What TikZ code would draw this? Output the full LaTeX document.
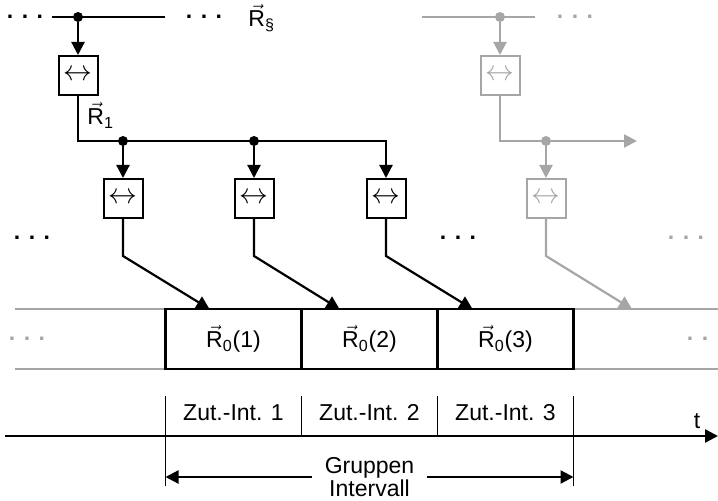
\documentclass[tikz,border=0pt]{standalone}
\usepackage{amsmath}
\usepackage{fontspec}
\setmainfont{Liberation Sans}
\usetikzlibrary{arrows.meta, positioning, calc}

\newcommand{\vecR}[1]{$\vec{\text{R}}_{\text{#1}}$}

\begin{document}
\begin{tikzpicture}[
        x=0.5pt, y=-0.5pt,
        font=\fontsize{11.5}{11.5}\selectfont,
        node distance=0pt,
        swapbox/.style={rectangle, draw, line width=1pt, minimum size=19.5pt, inner sep=0pt, font=\fontsize{14}{14}\selectfont},
        slot/.style={rectangle, draw, line width=1.2pt, minimum width=68pt, minimum height=30pt, inner sep=0pt, outer sep=0pt},
        arrow/.style={-{Triangle[length=6.5pt, width=6.5pt]}, line width=1.1pt},
        wire/.style={line width=1.1pt},
        junc/.style={circle, fill, inner sep=0pt, minimum size=5pt},
        faded/.style={black!35},
        guide/.style={black!35, line width=0.7pt},
        dotrow/.style={inner sep=0pt, font=\fontsize{11.5}{11.5}\selectfont\bfseries},
        tick/.style={line width=0.6pt}
    ]
        \useasboundingbox (0,0) rectangle (718,501);

        % top bus
        \coordinate (busw) at (52,17);
        \coordinate (buse) at (165,17);
        \draw[wire] (busw) -- (buse);
        \node[dotrow] (dots0) at (25,17) {. . .};
        \node[dotrow] (dots1) at (204,17) {. . .};
        \node[junc] (j0) at (78,17) {};
        \node[anchor=base west, inner sep=0pt] (rs) at (248,27) {\vecR{\S}};
        \node[swapbox] (sw0) at (78,75.5) {$\leftrightarrow$};
        \draw[arrow] (j0) -- (sw0);

        % second level
        \node[anchor=base west, inner sep=0pt] (r1) at (87,125) {\vecR{1}};
        \foreach \i/\x in {1/123, 2/254, 3/386}
            \node[swapbox] (sw\i) at (\x,198.5) {$\leftrightarrow$};
        \coordinate (bus) at (386,141);
        \draw[arrow] (sw0) |- (bus) -- (sw3);
        \node[junc] (j1) at (123,141) {};
        \node[junc] (j2) at (254,141) {};
        \draw[arrow] (j1) -- (sw1);
        \draw[arrow] (j2) -- (sw2);

        \node[dotrow] (dots2) at (32,238) {. . .};
        \node[dotrow] (dots3) at (458,238) {. . .};

        % grey continuation
        \coordinate (gbusw) at (422,17);
        \coordinate (gbuse) at (535,17);
        \draw[wire, faded] (gbusw) -- (gbuse);
        \node[junc, faded] (gj0) at (500,17) {};
        \node[dotrow, faded] (gdots0) at (575,17) {. . .};
        \node[swapbox, faded] (gsw0) at (500,75.5) {$\leftrightarrow$};
        \draw[arrow, faded] (gj0) -- (gsw0);
        \coordinate (gbus) at (637,141);
        \draw[arrow, faded] (gsw0) |- (gbus);
        \node[junc, faded] (gj1) at (546,141) {};
        \node[swapbox, faded] (gsw1) at (546,198.5) {$\leftrightarrow$};
        \draw[arrow, faded] (gj1) -- (gsw1);
        \node[dotrow, faded] (gdots1) at (686,238) {. . .};

        % slots
        \coordinate (gtw) at (15,309);
        \coordinate (gte) at (718,309);
        \coordinate (gbw) at (15,369);
        \coordinate (gbe) at (718,369);
        \draw[guide] (gtw) -- (gte);
        \draw[guide] (gbw) -- (gbe);
        \node[dotrow, faded] (gdots2) at (27,339) {. . .};
        \node[dotrow, faded] (gdots3) at (705,339) {. . .};

        \node[slot] (slot1) at (233.5,339) {\vecR{0}(1)};
        \node[slot, right=of slot1] (slot2) {\vecR{0}(2)};
        \node[slot, right=of slot2] (slot3) {\vecR{0}(3)};

        \draw[arrow] (sw1) -- ++(0,57.5) -- ([xshift=22pt]slot1.north west);
        \draw[arrow] (sw2) -- ++(0,57.5) -- ([xshift=19pt]slot2.north west);
        \draw[arrow] (sw3) -- ++(0,57.5) -- ([xshift=17.5pt]slot3.north west);
        \coordinate (gtip) at (632,309);
        \draw[arrow, faded] (gsw1) -- ++(0,57.5) -- (gtip);

        % time axis
        \coordinate (t0) at (5,436);
        \coordinate (t1) at (718,436);
        \draw[arrow, line width=1.2pt] (t0) -- (t1);
        \node (tlab) at (697,421) {t};
        \coordinate (tktop) at (0,396);
        \coordinate (axis) at (0,436);
        \coordinate (tkbot) at (0,486);
        \coordinate (zutrow) at (0,413);
        \coordinate (grprow) at (0,477);
        \draw[tick] (slot1.south west |- tktop) -- (slot1.south west |- tkbot);
        \draw[tick] (slot3.south east |- tktop) -- (slot3.south east |- tkbot);
        \draw[tick] (slot2.south west |- tktop) -- (slot2.south west |- axis);
        \draw[tick] (slot3.south west |- tktop) -- (slot3.south west |- axis);
        \foreach \i in {1,2,3}
            \node (zut\i) at (slot\i |- zutrow) {Zut.-Int. \i};

        \node[align=center, inner xsep=6pt, inner ysep=0pt] (grp) at (slot2 |- grprow) {Gruppen\\Intervall};
        \draw[arrow] (grp) -- (slot1.south west |- grp);
        \draw[arrow] (grp) -- (slot3.south east |- grp);
    \end{tikzpicture}
\end{document}
